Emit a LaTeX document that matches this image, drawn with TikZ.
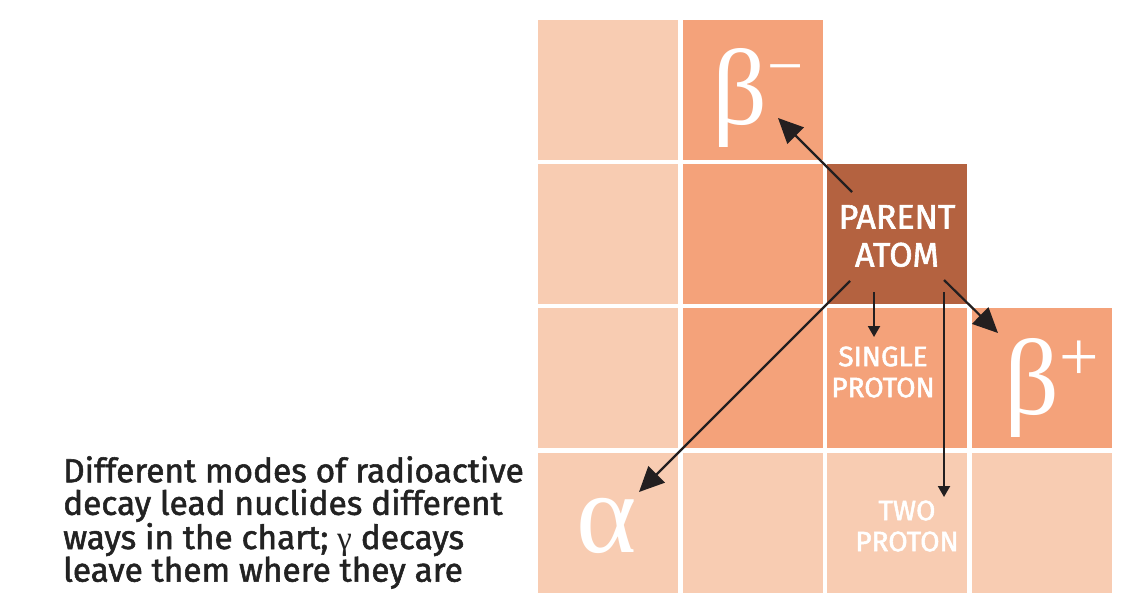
\documentclass[tikz,border=0pt]{standalone}
\usepackage{fontspec}
\usetikzlibrary{arrows.meta}
\newfontfamily\capfont{Fira Sans}[FakeBold=1.6]
\newfontfamily\labfont{Fira Sans}[FakeBold=1.8]
\newfontfamily\grkfont{Liberation Serif}
\definecolor{lightcell}{RGB}{248,204,178}
\definecolor{midcell}{RGB}{244,162,122}
\definecolor{parentcell}{RGB}{180,98,64}
\definecolor{inkblack}{RGB}{35,31,32}
\definecolor{captext}{RGB}{34,34,34}
\tikzset{
  cell/.style={anchor=north west, minimum width=140pt, minimum height=140pt, inner sep=0pt, outer sep=0pt},
  light/.style={cell, fill=lightcell},
  mid/.style={cell, fill=midcell},
  parent/.style={cell, fill=parentcell},
  celltext/.style={text=white, font=\labfont\fontsize{28}{31}\selectfont, align=center, inner sep=0pt},
  greek/.style={text=white, inner sep=0pt, anchor=base west, font=\grkfont},
  bigarrow/.style={draw=inkblack, line width=2.2pt, -{Triangle[length=25pt,width=23pt]}},
  smallarrow/.style={draw=inkblack, line width=2pt, -{Triangle[length=11pt,width=12pt]}},
}
\begin{document}
\begin{tikzpicture}[x=1pt,y=-1pt]
\useasboundingbox (0,0) rectangle (1127,606);
% row 1
\node[light] (r1c1) at (538,20) {};
\node[mid] (r1c2) at (683,20) {};
% row 2
\node[light] (r2c1) at (538,164) {};
\node[mid] (r2c2) at (683,164) {};
\node[parent] (par) at (827,164) {};
% row 3
\node[light] (r3c1) at (538,308) {};
\node[mid] (r3c2) at (683,308) {};
\node[mid] (r3c3) at (827,308) {};
\node[mid] (r3c4) at (972,308) {};
% row 4
\node[light] (r4c1) at (538,453) {};
\node[light] (r4c2) at (683,453) {};
\node[light] (r4c3) at (827,453) {};
\node[light] (r4c4) at (972,453) {};
% labels
\node[celltext, font=\labfont\fontsize{34}{38}\selectfont] (partext) at (897,236) {PARENT\\ATOM};
\node[celltext] (single) at (883,372) {SINGLE\\PROTON};
\node[celltext] (two) at (907,526) {TWO\\PROTON};
\node[greek] (bminus) at (712,124) {\fontsize{108}{108}\selectfont β\raisebox{37pt}{\fontsize{64}{64}\selectfont −}};
\node[greek] (bplus) at (1004,414) {\fontsize{108}{108}\selectfont β\raisebox{34pt}{\fontsize{70}{70}\selectfont +}};
\node[greek] (alpha) at (576,552) {\fontsize{115}{115}\selectfont α};
\node[anchor=north west, inner sep=0pt, text=captext, align=left, font=\capfont\fontsize{33.4}{32.6}\selectfont] (caption) at (63,456)
  {Different modes of radioactive\\decay lead nuclides different\\ways in the chart; {\grkfont γ} decays\\leave them where they are};
% arrow end points
\coordinate (sbm) at (852,192);
\coordinate (ebm) at (778,118);
\coordinate (sal) at (850,281);
\coordinate (eal) at (639,492);
\coordinate (ssp) at (874,292);
\coordinate (esp) at (874,337);
\coordinate (stp) at (944,292);
\coordinate (etp) at (944,497);
\coordinate (sbp) at (944,280);
\coordinate (ebp) at (998,333);
\draw[bigarrow] (sbm) -- (ebm);
\draw[bigarrow] (sal) -- (eal);
\draw[bigarrow] (sbp) -- (ebp);
\draw[smallarrow] (ssp) -- (esp);
\draw[smallarrow] (stp) -- (etp);
\end{tikzpicture}
\end{document}
